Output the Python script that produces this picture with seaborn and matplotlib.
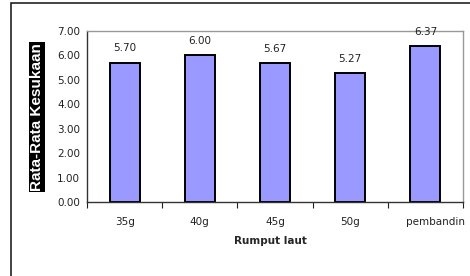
import pandas as pd
import matplotlib.pyplot as plt
import matplotlib.patches as mpatches
import matplotlib.transforms as mtrans
import seaborn as sns

# data
categories = ['35g', '40g', '45g', '50g', 'pembanding']
scores = [5.70, 6.00, 5.67, 5.27, 6.37]
yticks = [0, 1, 2, 3, 4, 5, 6, 7]

df = pd.DataFrame({'Rumput laut': categories, 'score': scores})

sns.set_theme(style='white')
plt.rcParams['font.family'] = ['DejaVu Sans']

fig = plt.figure(figsize=(4.7, 2.76), dpi=100)
ax = fig.add_axes([87 / 470, 1 - 202 / 276, 376 / 470, 171 / 276])

sns.barplot(df, x='Rumput laut', y='score', color='#9999FF', saturation=1,
            width=0.4, edgecolor='black', linewidth=1.4, ax=ax)

for cont in ax.containers:
    ax.bar_label(cont, fmt='%.2f', padding=7, fontsize=7.5, color='#222222')

ax.set_xlim(-0.5, len(categories) - 0.5)
ax.set_ylim(0, 7)
ax.set_yticks(yticks)
ax.set_yticklabels([f'{v:.2f}' for v in yticks])
ax.tick_params(axis='both', labelsize=7.5, colors='#222222', length=3, width=0.8,
               direction='out', pad=2)
# x ticks sit between categories, labels in the middle
ax.set_xticks([i - 0.5 for i in range(len(categories) + 1)], minor=False)
ax.set_xticklabels([])
ax.set_xticks(range(len(categories)), minor=True)
ax.set_xticklabels(categories, minor=True)
ax.tick_params(axis='x', which='major', bottom=True, length=4)
ax.tick_params(axis='x', which='minor', bottom=False, labelsize=7.5, pad=7,
               labelcolor='#222222')

# the long last label starts just left of its bar and runs off the chart edge
clip = mtrans.TransformedBbox(mtrans.Bbox([[0, 0], [465 / 470, 1]]), fig.transFigure)
last = ax.get_xticklabels(minor=True)[-1]
last.set_ha('left')
last.set_transform(last.get_transform() + mtrans.ScaledTranslation(-19 / 100, 0, fig.dpi_scale_trans))
last.set_clip_on(True)
last.set_clip_box(clip)

ax.set_xlabel('Rumput laut', fontsize=7.5, fontweight='bold', labelpad=9)
ax.xaxis.set_label_coords((270 - 87) / 376, -0.2)
ax.set_ylabel('')

for side in ['top', 'right']:
    ax.spines[side].set_color('#999999')
    ax.spines[side].set_linewidth(1.0)
for side in ['left', 'bottom']:
    ax.spines[side].set_color('#333333')
    ax.spines[side].set_linewidth(1.0)

# y label as white text in a black box
fig.text(37 / 470, 1 - 117 / 276, 'Rata-Rata Kesukaan', rotation=90, ha='center',
         va='center', color='white', fontsize=11, fontweight='bold',
         family='Liberation Sans',
         bbox=dict(facecolor='black', edgecolor='none', pad=0.8))

# outer chart frame, cut off on the right and bottom
frame = mpatches.Rectangle((11 / 470, -0.1), 1.2, 1 - 3 / 276 + 0.1,
                           transform=fig.transFigure, fill=False,
                           edgecolor='#222222', linewidth=1.2)
fig.patches.append(frame)

fig.savefig('out.png', dpi=100)
